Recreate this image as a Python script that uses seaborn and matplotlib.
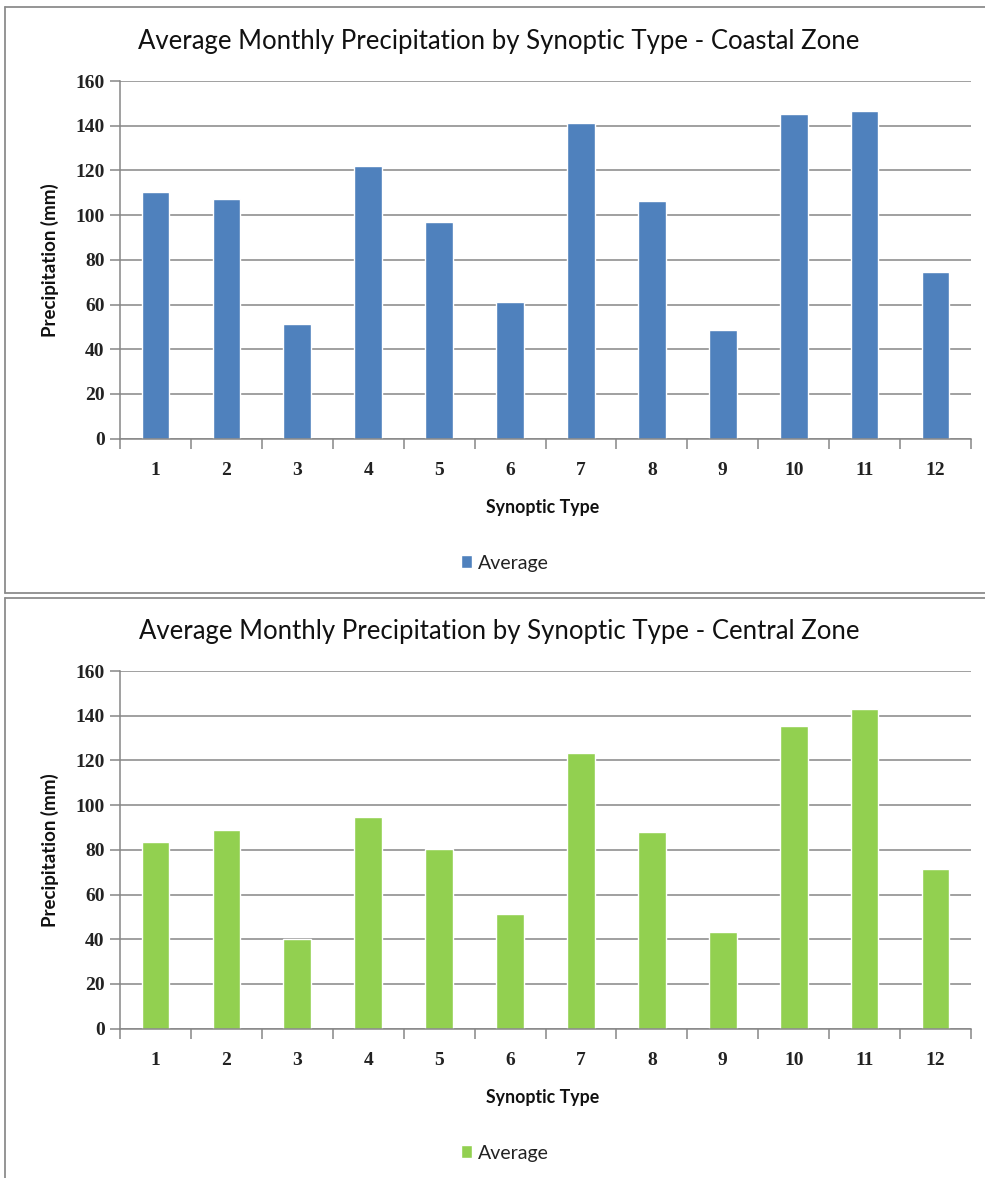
import matplotlib
matplotlib.use("Agg")
import matplotlib.pyplot as plt
from matplotlib.lines import Line2D
from matplotlib.ticker import FixedLocator, MultipleLocator
import seaborn as sns
import pandas as pd
import numpy as np

# Synoptic types and average precipitation (mm) per zone
synoptic_types = ["1", "2", "3", "4", "5", "6", "7", "8", "9", "10", "11", "12"]
coastal_avg = [110.5, 107.4, 51.3, 121.9, 97.1, 61.0, 141.3, 106.2, 48.8, 145.1, 146.6, 74.5]
central_avg = [83.7, 89.0, 40.0, 94.6, 80.3, 51.3, 123.5, 88.0, 43.3, 135.4, 142.9, 71.3]

panels = [
    ("Average Monthly Precipitation by Synoptic Type - Coastal Zone", coastal_avg, "#4F81BD"),
    ("Average Monthly Precipitation by Synoptic Type - Central Zone", central_avg, "#92D050"),
]

sns.set_theme(style="white")
plt.rcParams["font.family"] = ["Lato", "DejaVu Sans"]

W, H = 985, 1178
fig = plt.figure(figsize=(W / 100, H / 100), dpi=100)

def fx(px):
    return px / W

def fy(py):
    return 1 - py / H

# chart frames
frame_color = "#8C8C8C"
for (top, bottom) in [(7, 593), (598, 1190)]:
    fig.add_artist(Line2D([fx(5), fx(5)], [fy(top), fy(bottom)], color=frame_color, lw=1.3))
    fig.add_artist(Line2D([fx(5), fx(990)], [fy(top), fy(top)], color=frame_color, lw=1.3))
    fig.add_artist(Line2D([fx(5), fx(990)], [fy(bottom), fy(bottom)], color=frame_color, lw=1.3))

# plot-area geometry for each chart (top, zero-line y, title, ticks, xlabel, legend in pixels)
layout = [(81, 438.7, 42, 469, 507, 563), (671, 1028.7, 632, 1059, 1097, 1153)]
left_px, right_px = 120, 971

grid_color = "#868686"
for (title, values, color), (top_px, bot_px, title_y, tick_y, xlab_y, leg_y) in zip(panels, layout):
    ax = fig.add_axes([fx(left_px), fy(bot_px), fx(right_px - left_px), (bot_px - top_px) / H])
    df = pd.DataFrame({"Synoptic Type": synoptic_types, "Precipitation": values})
    sns.barplot(data=df, x="Synoptic Type", y="Precipitation", color=color,
                width=0.39, saturation=1, ax=ax, label="Average")
    ax.set_ylim(0, 160)
    ax.set_xlim(-0.5, 11.5)
    ax.yaxis.set_major_locator(MultipleLocator(20))
    ax.grid(axis="y", color=grid_color, lw=1.1)
    ax.set_axisbelow(True)
    for s in ["top", "right"]:
        ax.spines[s].set_visible(False)
    for s in ["left", "bottom"]:
        ax.spines[s].set_color(grid_color)
        ax.spines[s].set_linewidth(1.1)
    ax.tick_params(axis="y", which="major", left=True, length=7, color=grid_color, width=1.1, pad=4)
    ax.tick_params(axis="x", which="major", bottom=False, pad=11)
    ax.xaxis.set_minor_locator(FixedLocator(np.arange(-0.5, 12, 1.0)))
    ax.tick_params(axis="x", which="minor", bottom=True, length=7, color=grid_color, width=1.1)
    for lab in ax.get_xticklabels() + ax.get_yticklabels():
        lab.set_fontfamily("Liberation Serif")
        lab.set_fontweight("bold")
        lab.set_fontsize(14)
        lab.set_color("#222222")
    ax.set_xlabel("")
    ax.set_ylabel("Precipitation (mm)", fontsize=13.5, fontweight="bold", color="#111111", labelpad=12)
    fig.text(fx(499), fy(title_y), title, ha="center", va="center", fontsize=18.5, color="#111111")
    fig.text(fx(543), fy(xlab_y), "Synoptic Type", ha="center", va="center", fontsize=12.8,
             fontweight="bold", color="#111111")
    leg = ax.legend(loc="center", bbox_to_anchor=(fx(505), fy(leg_y)), bbox_transform=fig.transFigure,
                    frameon=False, fontsize=14, handlelength=0.6, handleheight=0.6, handletextpad=0.3)
    for t in leg.get_texts():
        t.set_color("#222222")

fig.savefig("out.png", dpi=100)
